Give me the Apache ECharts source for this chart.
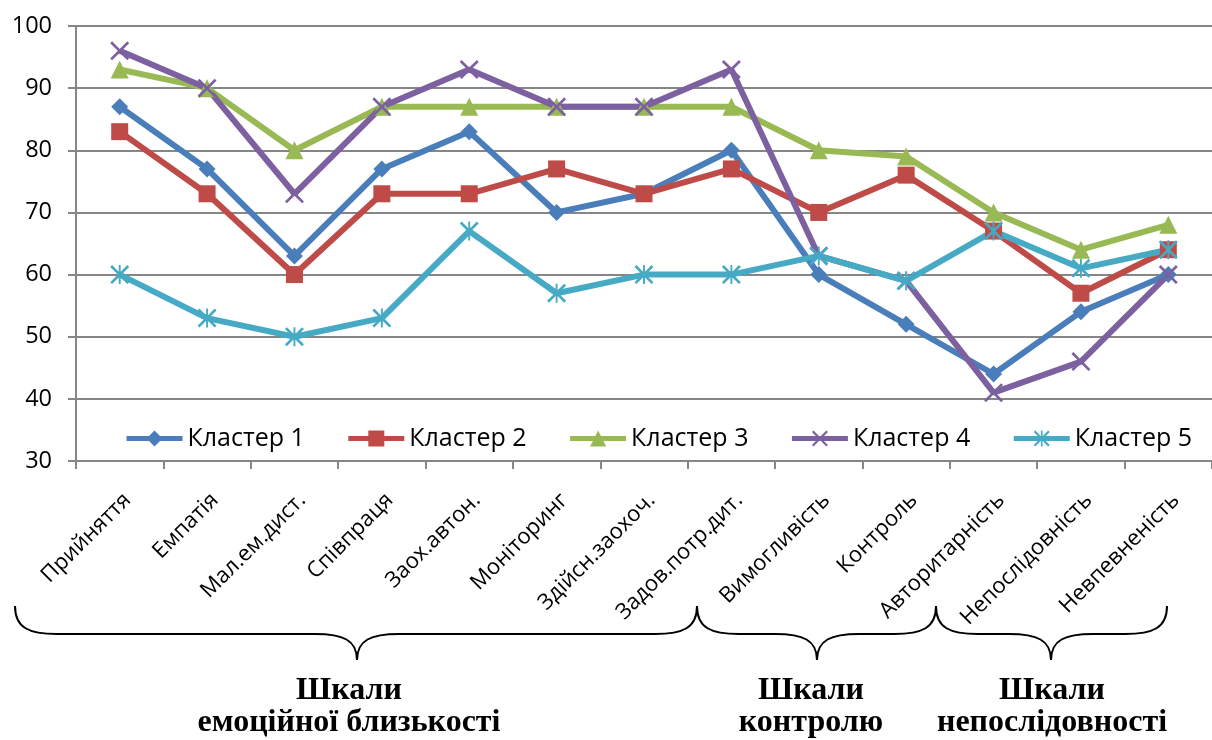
<!DOCTYPE html>
<html>
<head>
<meta charset="utf-8">
<script src="https://cdn.jsdelivr.net/npm/echarts@6/dist/echarts.min.js"></script>
<style>
html,body{margin:0;padding:0;background:#fff;}
#chart{width:1212px;height:740px;}
</style>
</head>
<body>
<div id="chart"></div>
<script>
const categories = ['Прийняття','Емпатія','Мал.ем.дист.','Співпраця','Заох.автон.','Моніторинг','Здійсн.заохоч.','Задов.потр.дит.','Вимогливість','Контроль','Авторитарність','Непослідовність','Невпевненість'];
const seriesNames = ['Кластер 1','Кластер 2','Кластер 3','Кластер 4','Кластер 5'];
const cluster1 = [87, 77, 63, 77, 83, 70, 73, 80, 60, 52, 44, 54, 60];
const cluster2 = [83, 73, 60, 73, 73, 77, 73, 77, 70, 76, 67, 57, 64];
const cluster3 = [93, 90, 80, 87, 87, 87, 87, 87, 80, 79, 70, 64, 68];
const cluster4 = [96, 90, 73, 87, 93, 87, 87, 93, 63, 59, 41, 46, 60];
const cluster5 = [60, 53, 50, 53, 67, 57, 60, 60, 63, 59, 67, 61, 64];
const groupTitles = [['Шкали','емоційної близькості'],['Шкали','контролю'],['Шкали','непослідовності']];

const colors = ['#4A7EBB','#BE4B48','#98B954','#7D60A0','#46AAC5'];
const xMark = 'path://M0,1 L1,0 L5,4 L9,0 L10,1 L6,5 L10,9 L9,10 L5,6 L1,10 L0,9 L4,5 Z';
const starMark = 'path://M0,1 L1,0 L5,4 L9,0 L10,1 L6,5 L10,9 L9,10 L5,6 L1,10 L0,9 L4,5 Z M4.5,0 L5.5,0 L5.5,10 L4.5,10 Z';
const symbols = ['diamond','rect','triangle',xMark,starMark];
const symbolSizes = [17,17,18,19,19];
const allData = [cluster1,cluster2,cluster3,cluster4,cluster5];

const chart = echarts.init(document.getElementById('chart'));

function brace(xl, xr, xm){
  const yt = 606, yh = 634, yb = 660, r = 42;
  const st = {stroke:'#000', lineWidth:2, fill:null};
  return [
    {type:'bezierCurve', shape:{x1:xl,y1:yt,cpx1:xl,cpy1:yt+22,cpx2:xl+14,cpy2:yh,x2:xl+r,y2:yh}, style:st},
    {type:'line', shape:{x1:xl+r,y1:yh,x2:xm-r,y2:yh}, style:st},
    {type:'bezierCurve', shape:{x1:xm-r,y1:yh,cpx1:xm-14,cpy1:yh,cpx2:xm,cpy2:yh+6,x2:xm,y2:yb}, style:st},
    {type:'bezierCurve', shape:{x1:xm,y1:yb,cpx1:xm,cpy1:yh+6,cpx2:xm+14,cpy2:yh,x2:xm+r,y2:yh}, style:st},
    {type:'line', shape:{x1:xm+r,y1:yh,x2:xr-r,y2:yh}, style:st},
    {type:'bezierCurve', shape:{x1:xr-r,y1:yh,cpx1:xr-14,cpy1:yh,cpx2:xr,cpy2:yt+22,x2:xr,y2:yt}, style:st}
  ];
}
function label(x, lines){
  const font = 'bold 32px "Liberation Serif", "Times New Roman", serif';
  return lines.map((t,i)=>({type:'text', x:x, y:691+i*32, style:{text:t, font:font, fill:'#000', align:'center', verticalAlign:'middle', textAlign:'center', textVerticalAlign:'middle'}}));
}

const graphics = [].concat(
  brace(15, 697, 357), brace(697, 936, 817), brace(936, 1167, 1051),
  label(349, groupTitles[0]), label(811, groupTitles[1]), label(1052, groupTitles[2])
);

chart.setOption({
  animation:false,
  backgroundColor:'#fff',
  color: colors,
  grid:{left:76, top:26, width:1144, height:435, containLabel:false},
  legend:{
    left:119, top:421, width:1090, itemWidth:56, itemHeight:20, itemGap:41,
    lineStyle:{width:5},
    textStyle:{fontFamily:'"Open Sans", sans-serif', fontSize:25, color:'#000'},
    data: seriesNames
  },
  xAxis:{
    type:'category', data:categories, boundaryGap:true,
    axisLine:{lineStyle:{color:'#868686', width:2}},
    axisTick:{show:true, alignWithLabel:false, length:8, lineStyle:{color:'#868686', width:2}},
    axisLabel:{rotate:45, margin:28, interval:0, color:'#000', fontSize:22, fontFamily:'"Open Sans", sans-serif', verticalAlign:'top'}
  },
  yAxis:{
    type:'value', min:30, max:100, interval:10,
    axisLine:{show:true, lineStyle:{color:'#868686', width:2}},
    axisTick:{show:true, length:8, lineStyle:{color:'#868686', width:2}},
    splitLine:{show:true, lineStyle:{color:'#868686', width:2}},
    axisLabel:{margin:24, color:'#000', fontSize:23.5, fontFamily:'"Open Sans", sans-serif'}
  },
  series: seriesNames.map((n,i)=>({
    name:n, type:'line', data:allData[i],
    symbol:symbols[i], symbolSize:symbolSizes[i], showAllSymbol:true,
    lineStyle:{width:6, color:colors[i]},
    itemStyle:{color:colors[i]},
    emphasis:{disabled:true}
  })),
  graphic: graphics
});
</script>
</body>
</html>
